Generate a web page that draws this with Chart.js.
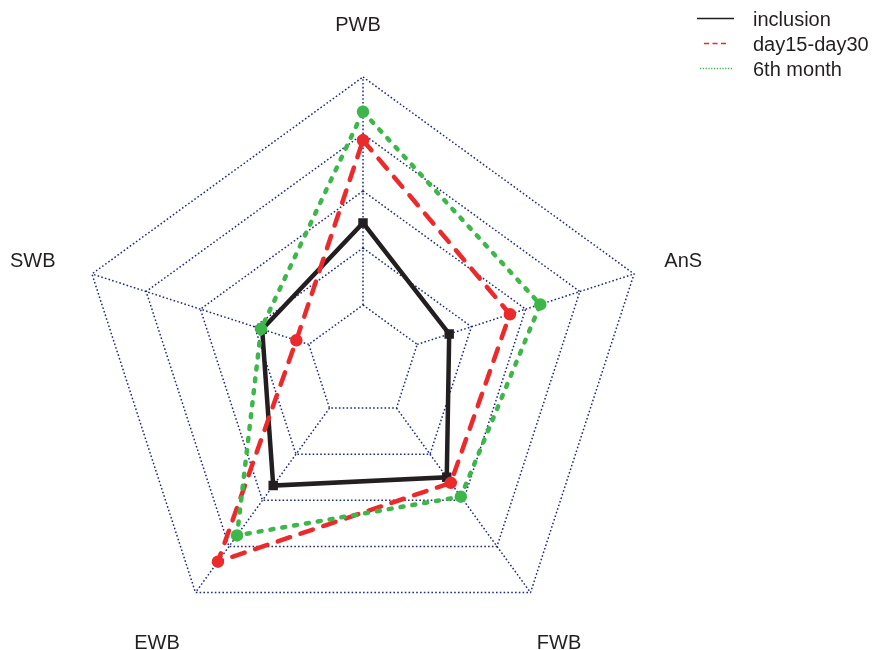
<!DOCTYPE html>
<html>
<head>
<meta charset="utf-8">
<script src="https://cdn.jsdelivr.net/npm/chart.js@4/dist/chart.umd.min.js"></script>
<style>
  body { margin: 0; background: #fff; }
  canvas { display: block; }
</style>
</head>
<body>
<canvas id="radar" width="874" height="650"></canvas>
<script>
// data (ring units: 0 = centre, 1 = inner ring, 5 = outer ring)
var axes = ["PWB", "AnS", "FWB", "EWB", "SWB"];
var seriesNames = ["inclusion", "day15-day30", "6th month"];
var inclusion = [2.44, 1.59, 2.5, 2.68, 1.86];
var day15 = [3.89, 2.71, 2.62, 4.33, 1.23];
var month6 = [4.39, 3.27, 2.92, 3.76, 1.88];

var gridColor = "#1f2c78";
var textColor = "#231f20";

// angle lines start at the inner ring, like the original
var spokes = {
    id: "spokes",
    beforeDatasetsDraw: function (chart) {
        var s = chart.scales.r;
        var ctx = chart.ctx;
        var r0 = s.getDistanceFromCenterForValue(1);
        var r1 = s.getDistanceFromCenterForValue(5);
        ctx.save();
        ctx.strokeStyle = gridColor;
        ctx.lineWidth = 1.5;
        ctx.setLineDash([1.6, 2.2]);
        for (var i = 0; i < axes.length; i++) {
            var a = s.getPointPosition(i, r0);
            var b = s.getPointPosition(i, r1);
            ctx.beginPath();
            ctx.moveTo(a.x, a.y);
            ctx.lineTo(b.x, b.y);
            ctx.stroke();
        }
        ctx.restore();
    }
};

// axis names at 1.2 x radius
var axisNames = {
    id: "axisNames",
    afterDraw: function (chart) {
        var s = chart.scales.r;
        var ctx = chart.ctx;
        ctx.save();
        ctx.font = "20px 'Liberation Sans', Arial, sans-serif";
        ctx.fillStyle = textColor;
        ctx.textAlign = "center";
        ctx.textBaseline = "middle";
        for (var i = 0; i < axes.length; i++) {
            var p = s.getPointPosition(i, s.drawingArea * 1.2);
            ctx.fillText(axes[i], p.x - 5, p.y + 5);
        }
        ctx.restore();
    }
};

// legend top right
var sideLegend = {
    id: "sideLegend",
    afterDraw: function (chart) {
        var ctx = chart.ctx;
        var dashes = [[], [5, 3.5], [1.2, 1.6]];
        var x0 = [697, 704, 700];
        var x1 = [734, 729, 733];
        ctx.save();
        ctx.font = "20px 'Liberation Sans', Arial, sans-serif";
        ctx.textBaseline = "middle";
        for (var i = 0; i < seriesNames.length; i++) {
            var y = 18 + i * 25;
            var ds = chart.data.datasets[i];
            ctx.strokeStyle = ds.borderColor;
            ctx.lineWidth = i == 0 ? 1.6 : 1.4;
            ctx.setLineDash(dashes[i]);
            ctx.beginPath();
            ctx.moveTo(x0[i], y + 0.5);
            ctx.lineTo(x1[i], y + 0.5);
            ctx.stroke();
            ctx.fillStyle = textColor;
            ctx.fillText(seriesNames[i], 753, y + 2);
        }
        ctx.restore();
    }
};

const ctx = document.getElementById("radar");

const chart = new Chart(ctx, {
    type: 'radar',
    data: {
        labels: axes,
        datasets: [{
            label: seriesNames[0],
            data: inclusion,
            borderColor: '#231f20',
            backgroundColor: '#231f20',
            borderWidth: 4.5,
            pointStyle: 'rect',
            pointRadius: 3.5,
            fill: false,
            order: 3
        }, {
            label: seriesNames[1],
            data: day15,
            borderColor: '#ec2a2c',
            backgroundColor: '#ec2a2c',
            borderWidth: 4.5,
            borderDash: [13, 11],
            borderCapStyle: 'round',
            pointRadius: 4,
            fill: false,
            order: 2
        }, {
            label: seriesNames[2],
            data: month6,
            borderColor: '#3db64a',
            backgroundColor: '#3db64a',
            borderWidth: 4.5,
            borderDash: [3, 9],
            borderCapStyle: 'round',
            pointRadius: 4,
            fill: false,
            order: 1
        }]
    },
    options: {
        responsive: false,
        animation: false,
        layout: { padding: { top: 77, bottom: 3, left: 78, right: 226 } },
        plugins: {
            legend: { display: false },
            tooltip: { enabled: false }
        },
        elements: { line: { tension: 0 } },
        scales: {
            r: {
                min: 0,
                max: 5,
                ticks: { display: false, stepSize: 1 },
                pointLabels: { display: false },
                angleLines: { display: false },
                grid: { color: gridColor, lineWidth: 1.5 },
                border: { dash: [1.6, 2.2] }
            }
        }
    },
    plugins: [spokes, axisNames, sideLegend]
});
</script>
</body>
</html>
